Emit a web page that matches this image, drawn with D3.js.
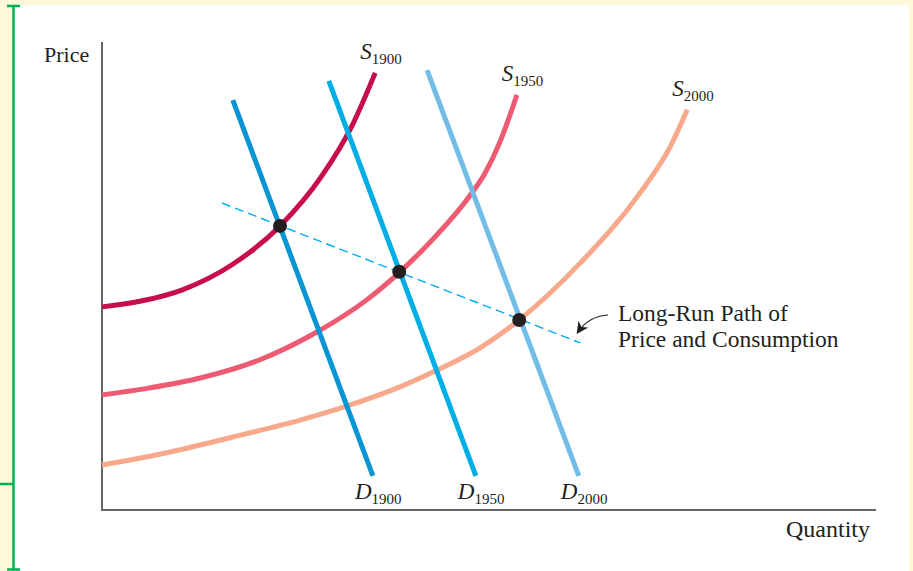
<!DOCTYPE html>
<html>
<head>
<meta charset="utf-8">
<script src="https://cdn.jsdelivr.net/npm/d3@7"></script>
<style>
  html, body { margin: 0; padding: 0; background: #fef9d9; }
  svg { display: block; }
  text { font-family: "Liberation Serif", "Times New Roman", serif; fill: #231f20; }
</style>
</head>
<body>
<div id="chart"></div>
<script>
// supply curves (quantity, price), 0..100 units
const supplyYears = ['1900', '1950', '2000'];
const supply1900 = [[0, 43.4], [5.2, 44.7], [10.3, 47.0], [16.8, 52.4], [23.0, 60.7], [28.4, 71.4], [32.3, 82.1], [35.3, 93.4]];
const supply1950 = [[0, 24.6], [6.2, 26.1], [12.7, 28.2], [20.4, 32.1], [27.3, 37.6], [34.2, 44.9], [38.5, 50.9], [43.0, 58.3], [47.5, 67.1], [49.5, 72.0], [51.4, 78.6], [52.8, 84.8], [53.6, 88.7]];
const supply2000 = [[0, 9.6], [8.8, 12.4], [16.9, 15.6], [25.6, 19.2], [32.0, 22.4], [38.5, 26.3], [43.3, 29.9], [48.8, 34.6], [53.9, 40.6], [61.8, 52.8], [69.5, 67.7], [73.4, 77.6], [75.6, 85.5]];

// demand lines: [top point, bottom point]
const demandYears = ['1900', '1950', '2000'];
const demand1900 = [[16.9, 87.6], [35.0, 7.3]];
const demand1950 = [[29.3, 91.7], [48.3, 7.3]];
const demand2000 = [[42.0, 94.0], [61.6, 7.3]];

// equilibrium points and the long-run path through them
const equilibria = [[23.0, 60.7], [38.4, 50.9], [53.9, 40.6]];
const longRunPath = [[15.5, 65.6], [61.8, 35.7]];

const pathNote = ['Long-Run Path of', 'Price and Consumption'];

const supplyColors = ['#c70d4a', '#ee5a71', '#f8a98b'];
const demandColors = ['#0994d3', '#00aee6', '#72bde7'];

const W = 913, H = 571;
const svg = d3.select('#chart').append('svg')
  .attr('width', W).attr('height', H);

// page frame: white panel + green bracket on the left
svg.append('rect').attr('x', 14).attr('y', 5).attr('width', 895).attr('height', H - 5).attr('fill', '#fff');
const green = '#00b04f';
const bracket = svg.append('g').attr('stroke', green).attr('stroke-width', 2.5);
bracket.append('line').attr('x1', 13.5).attr('x2', 13.5).attr('y1', 5).attr('y2', 570);
bracket.append('line').attr('x1', 7).attr('x2', 20).attr('y1', 6).attr('y2', 6);
bracket.append('line').attr('x1', 7).attr('x2', 20).attr('y1', 569.5).attr('y2', 569.5);
bracket.append('line').attr('x1', 0).attr('x2', 13.5).attr('y1', 484).attr('y2', 484);

const x = d3.scaleLinear().domain([0, 100]).range([102, 876]);
const y = d3.scaleLinear().domain([0, 100]).range([510, 42]);

// axes (no ticks)
const axisG = svg.append('g').attr('stroke', '#666').attr('stroke-width', 2).attr('fill', 'none');
axisG.append('path').attr('d', `M${x(0)},${y(100)}V${y(0)}H${x(100)}`);

svg.append('text').attr('x', 44).attr('y', 62).attr('font-size', 22).text('Price');
svg.append('text').attr('x', 870).attr('y', 537).attr('text-anchor', 'end').attr('font-size', 24).text('Quantity');

const line = d3.line().x(d => x(d[0])).y(d => y(d[1]));
const curve = d3.line().x(d => x(d[0])).y(d => y(d[1])).curve(d3.curveMonotoneX);

const supplies = [supply1900, supply1950, supply2000];
const demands = [demand1900, demand1950, demand2000];

svg.append('g').selectAll('path').data(supplies).join('path')
  .attr('d', curve)
  .attr('fill', 'none')
  .attr('stroke', (d, i) => supplyColors[i])
  .attr('stroke-width', 5);

svg.append('g').selectAll('path').data(demands).join('path')
  .attr('d', line)
  .attr('fill', 'none')
  .attr('stroke', (d, i) => demandColors[i])
  .attr('stroke-width', 5);

// long-run path
svg.append('path').datum(longRunPath)
  .attr('d', line)
  .attr('fill', 'none')
  .attr('stroke', '#00aeef')
  .attr('stroke-width', 1.4)
  .attr('stroke-dasharray', '9,5');

svg.append('g').selectAll('circle').data(equilibria).join('circle')
  .attr('cx', d => x(d[0])).attr('cy', d => y(d[1]))
  .attr('r', 7).attr('fill', '#231f20');

// curve labels, S above the top end, D below the bottom end
function label(g, letter, sub, px, py) {
  const t = g.append('text').attr('x', px).attr('y', py).attr('font-size', 23);
  t.append('tspan').attr('font-style', 'italic').text(letter);
  t.append('tspan').attr('font-size', 15).attr('dy', 5).text(sub);
}
const labels = svg.append('g');
supplies.forEach((s, i) => {
  const top = s[s.length - 1];
  label(labels, 'S', supplyYears[i], x(top[0]) - 15, y(top[1]) - 14);
});
demands.forEach((d, i) => {
  const bot = d[1];
  label(labels, 'D', demandYears[i], x(bot[0]) - 18, y(bot[1]) + 23);
});

// annotation
const note = svg.append('text').attr('x', 618).attr('y', 321).attr('font-size', 23.5);
pathNote.forEach((s, i) => note.append('tspan').attr('x', 618).attr('dy', i ? 26 : 0).text(s));

svg.append('defs').append('marker')
  .attr('id', 'arr').attr('viewBox', '0 0 10 10').attr('refX', 8).attr('refY', 5)
  .attr('markerWidth', 12).attr('markerHeight', 12).attr('markerUnits', 'userSpaceOnUse')
  .attr('orient', 'auto')
  .append('path').attr('d', 'M0,0L10,5L0,10L3,5Z').attr('fill', '#231f20');

svg.append('path')
  .attr('d', 'M608,315 Q589,316 578,332')
  .attr('fill', 'none').attr('stroke', '#231f20').attr('stroke-width', 1.2)
  .attr('marker-end', 'url(#arr)');
</script>
</body>
</html>
